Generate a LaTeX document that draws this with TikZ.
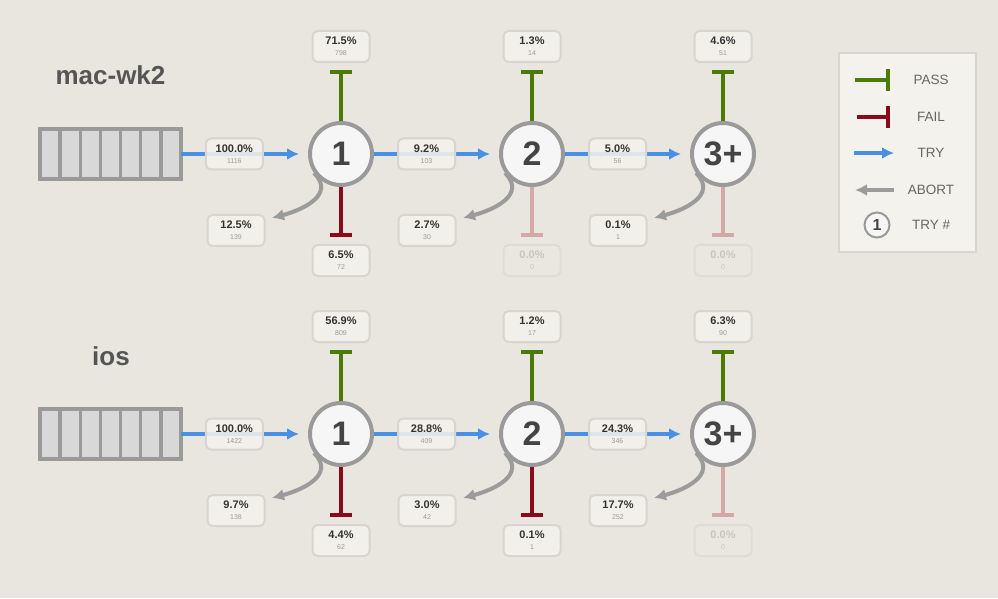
\documentclass[tikz,border=0pt]{standalone}
\usepackage{fontspec}
\setmainfont{Liberation Sans}
\usepackage{xcolor}
\usetikzlibrary{arrows.meta, positioning}

\definecolor{bgpaper}{HTML}{E9E6E0}
\definecolor{boxfill}{HTML}{F4F2EC}
\definecolor{boxline}{HTML}{D8D5CF}
\definecolor{tryblue}{HTML}{4A90E2}
\definecolor{passgreen}{HTML}{4B7A05}
\definecolor{failred}{HTML}{8A0A1C}
\definecolor{failpale}{HTML}{D3A8A5}
\definecolor{abortgray}{HTML}{9B9B9B}
\definecolor{ringgray}{HTML}{9A9A9A}
\definecolor{ringfill}{HTML}{F6F6F6}
\definecolor{queuefill}{HTML}{D8D8D8}
\definecolor{numtext}{HTML}{444444}
\definecolor{titlegray}{HTML}{555555}
\definecolor{pcttext}{HTML}{333333}
\definecolor{cntgray}{HTML}{9A9A9A}
\definecolor{legtext}{HTML}{666666}
\definecolor{fadetext}{HTML}{C8C5BF}
\definecolor{fadeline}{HTML}{DFDCD6}
\definecolor{fadefill}{HTML}{EBE8E2}

\newcommand{\cnt}{\fontsize{7}{7}\selectfont\mdseries\color{cntgray}}
\newcommand{\cntfade}{\fontsize{7}{7}\selectfont\mdseries\color{fadetext}}

\tikzset{
  % try / pass / fail / abort connectors
  tryarr/.style={
    draw=tryblue, line width=3.5pt,
    -{Latex[length=12pt,width=12pt]}
  },
  passarr/.style={
    draw=passgreen, line width=4pt,
    -{Bar[width=22pt]}
  },
  failarr/.style={
    draw=failred, line width=4pt,
    -{Bar[width=22pt]}
  },
  failfade/.style={
    failarr, draw=failpale
  },
  abortarr/.style={
    draw=abortgray, line width=4pt,
    -{Latex[length=12pt,width=12pt]}
  },
  % nodes
  trynode/.style={
    circle, draw=ringgray, fill=ringfill, line width=4pt,
    minimum size=62pt, inner sep=0pt, text=numtext,
    font=\fontsize{34}{34}\selectfont\bfseries
  },
  queue/.style={
    draw=ringgray, fill=queuefill, line width=4pt, outer sep=0pt,
    minimum width=141pt, minimum height=50pt, inner sep=0pt
  },
  qbar/.style={
    draw=ringgray, line width=3.5pt
  },
  lbl/.style={
    draw=boxline, line width=2pt, fill=boxfill, fill opacity=.87,
    text opacity=1, rounded corners=5pt, minimum width=57pt,
    minimum height=31pt, inner sep=0pt, align=center, text=pcttext,
    font=\fontsize{11}{11}\selectfont\bfseries
  },
  lblfade/.style={
    lbl, draw=fadeline, fill=fadefill, text=fadetext
  },
}

\begin{document}
\begin{tikzpicture}
          [x=1pt, y=1pt,
           title/.style={anchor=base, inner sep=0pt, text=titlegray,
                         font=\fontsize{26}{26}\selectfont\bfseries},
           legtxt/.style={inner sep=0pt, text=legtext,
                          font=\fontsize{13.5}{13.5}\selectfont},
           legbox/.style={draw=boxline, fill=boxfill, line width=2pt,
                          minimum width=137pt, minimum height=199pt}
          ]
          \fill[bgpaper] (0,0) rectangle (998,598);
          \useasboundingbox (0,0) rectangle (998,598);

          % mac-wk2
          \node (t1) [title] at (110.5,513) {mac-wk2};
          \node (q1) [queue] at (110.5,444) {};
          \draw[qbar] ([xshift=20.1pt]q1.south west) -- ([xshift=20.1pt]q1.north west)
                      ([xshift=40.3pt]q1.south west) -- ([xshift=40.3pt]q1.north west)
                      ([xshift=60.4pt]q1.south west) -- ([xshift=60.4pt]q1.north west)
                      ([xshift=80.6pt]q1.south west) -- ([xshift=80.6pt]q1.north west)
                      ([xshift=100.7pt]q1.south west) -- ([xshift=100.7pt]q1.north west)
                      ([xshift=120.9pt]q1.south west) -- ([xshift=120.9pt]q1.north west);

          \node (c1) [trynode] at (341,444) {1};
          \node (c2) [trynode] at (532,444) {2};
          \node (c3) [trynode] at (723,444) {3+};

          \draw[tryarr, shorten >=9pt] (q1) -- (c1)
                node (r1) [lbl, pos=.42] {100.0\%\\{\cnt 1116}};
          \draw[tryarr, shorten >=9pt] (c1) -- (c2)
                node (r2) [lbl, pos=.42] {9.2\%\\{\cnt 103}};
          \draw[tryarr, shorten >=9pt] (c2) -- (c3)
                node (r3) [lbl, pos=.42] {5.0\%\\{\cnt 56}};

          \node (p1) [lbl, above=58pt of c1] {71.5\%\\{\cnt 798}};
          \node (p2) [lbl, above=58pt of c2] {1.3\%\\{\cnt 14}};
          \node (p3) [lbl, above=58pt of c3] {4.6\%\\{\cnt 51}};
          \node (f1) [lbl, below=57pt of c1] {6.5\%\\{\cnt 72}};
          \node (f2) [lblfade, below=57pt of c2] {0.0\%\\{\cntfade 0}};
          \node (f3) [lblfade, below=57pt of c3] {0.0\%\\{\cntfade 0}};
          \node (a1) [lbl] at ([xshift=-105pt,yshift=-76.5pt]c1) {12.5\%\\{\cnt 139}};
          \node (a2) [lbl] at ([xshift=-105pt,yshift=-76.5pt]c2) {2.7\%\\{\cnt 30}};
          \node (a3) [lbl] at ([xshift=-105pt,yshift=-76.5pt]c3) {0.1\%\\{\cnt 1}};

          \draw[passarr, shorten >=7pt] (c1) -- (p1);
          \draw[passarr, shorten >=7pt] (c2) -- (p2);
          \draw[passarr, shorten >=7pt] (c3) -- (p3);
          \draw[failarr, shorten >=7pt] (c1) -- (f1);
          \draw[failfade, shorten >=7pt] (c2) -- (f2);
          \draw[failfade, shorten >=7pt] (c3) -- (f3);
          \draw[abortarr] (c1.215) to[out=-45, in=15, looseness=1.3]
                ([xshift=6.5pt,yshift=-4pt]a1.north east);
          \draw[abortarr] (c2.215) to[out=-45, in=15, looseness=1.3]
                ([xshift=6.5pt,yshift=-4pt]a2.north east);
          \draw[abortarr] (c3.215) to[out=-45, in=15, looseness=1.3]
                ([xshift=6.5pt,yshift=-4pt]a3.north east);

          % ios
          \node (t2) [title] at (111,233) {ios};
          \node (q2) [queue] at (110.5,164) {};
          \draw[qbar] ([xshift=20.1pt]q2.south west) -- ([xshift=20.1pt]q2.north west)
                      ([xshift=40.3pt]q2.south west) -- ([xshift=40.3pt]q2.north west)
                      ([xshift=60.4pt]q2.south west) -- ([xshift=60.4pt]q2.north west)
                      ([xshift=80.6pt]q2.south west) -- ([xshift=80.6pt]q2.north west)
                      ([xshift=100.7pt]q2.south west) -- ([xshift=100.7pt]q2.north west)
                      ([xshift=120.9pt]q2.south west) -- ([xshift=120.9pt]q2.north west);

          \node (d1) [trynode] at (341,164) {1};
          \node (d2) [trynode] at (532,164) {2};
          \node (d3) [trynode] at (723,164) {3+};

          \draw[tryarr, shorten >=9pt] (q2) -- (d1)
                node (s1) [lbl, pos=.42] {100.0\%\\{\cnt 1422}};
          \draw[tryarr, shorten >=9pt] (d1) -- (d2)
                node (s2) [lbl, pos=.42] {28.8\%\\{\cnt 409}};
          \draw[tryarr, shorten >=9pt] (d2) -- (d3)
                node (s3) [lbl, pos=.42] {24.3\%\\{\cnt 346}};

          \node (g1) [lbl, above=58pt of d1] {56.9\%\\{\cnt 809}};
          \node (g2) [lbl, above=58pt of d2] {1.2\%\\{\cnt 17}};
          \node (g3) [lbl, above=58pt of d3] {6.3\%\\{\cnt 90}};
          \node (h1) [lbl, below=57pt of d1] {4.4\%\\{\cnt 62}};
          \node (h2) [lbl, below=57pt of d2] {0.1\%\\{\cnt 1}};
          \node (h3) [lblfade, below=57pt of d3] {0.0\%\\{\cntfade 0}};
          \node (b1) [lbl] at ([xshift=-105pt,yshift=-76.5pt]d1) {9.7\%\\{\cnt 138}};
          \node (b2) [lbl] at ([xshift=-105pt,yshift=-76.5pt]d2) {3.0\%\\{\cnt 42}};
          \node (b3) [lbl] at ([xshift=-105pt,yshift=-76.5pt]d3) {17.7\%\\{\cnt 252}};

          \draw[passarr, shorten >=7pt] (d1) -- (g1);
          \draw[passarr, shorten >=7pt] (d2) -- (g2);
          \draw[passarr, shorten >=7pt] (d3) -- (g3);
          \draw[failarr, shorten >=7pt] (d1) -- (h1);
          \draw[failarr, shorten >=7pt] (d2) -- (h2);
          \draw[failfade, shorten >=7pt] (d3) -- (h3);
          \draw[abortarr] (d1.215) to[out=-45, in=15, looseness=1.3]
                ([xshift=6.5pt,yshift=-4pt]b1.north east);
          \draw[abortarr] (d2.215) to[out=-45, in=15, looseness=1.3]
                ([xshift=6.5pt,yshift=-4pt]b2.north east);
          \draw[abortarr] (d3.215) to[out=-45, in=15, looseness=1.3]
                ([xshift=6.5pt,yshift=-4pt]b3.north east);

          % legend
          \node (lg) [legbox] at (907.5,445.5) {};
          \node (lpass) [legtxt] at (931,518) {PASS};
          \node (lfail) [legtxt] at (931,481) {FAIL};
          \node (ltry) [legtxt] at (931,445) {TRY};
          \node (labort) [legtxt] at (931,408) {ABORT};
          \node (lnum) [legtxt] at (931,373) {TRY \#};
          \node (lc) [trynode, line width=2pt, minimum size=25pt,
                      font=\fontsize{16}{16}\selectfont\bfseries] at (877,373) {1};

          \coordinate (lpa) at (855,518);
          \coordinate (lpb) at (890,518);
          \coordinate (lfa) at (857,481);
          \coordinate (lfb) at (890,481);
          \coordinate (lta) at (854,445);
          \coordinate (ltb) at (894,445);
          \coordinate (laa) at (894,408);
          \coordinate (lab) at (855,408);
          \draw[passarr] (lpa) -- (lpb);
          \draw[failarr] (lfa) -- (lfb);
          \draw[tryarr] (lta) -- (ltb);
          \draw[abortarr] (laa) -- (lab);
      \end{tikzpicture}
\end{document}
